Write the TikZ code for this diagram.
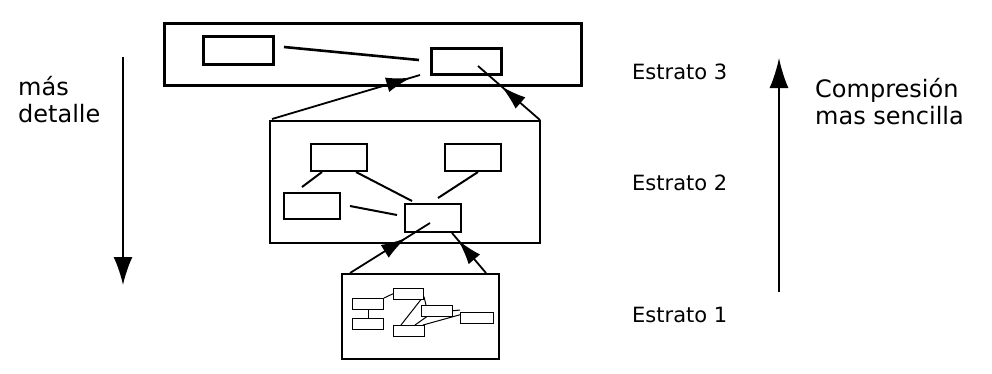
\documentclass[tikz,border=0pt]{standalone}
\usepackage{fontspec}
\setmainfont{DejaVu Sans}
\usetikzlibrary{arrows.meta,decorations.markings}
\begin{document}
\begin{tikzpicture}[x=1pt,y=-1pt,
  bigtip/.tip={Latex[length=25pt,width=15pt]},
  midarrow/.style={line width=1.8pt,decoration={markings,mark=at position #1 with {\arrow{bigtip}}},postaction={decorate}},
  frame/.style={draw,line width=#1},
  lbl/.style={anchor=base west,inner sep=0pt,font=\fontsize{21}{22}\selectfont},
  big/.style={anchor=base west,inner sep=0pt,align=left,font=\fontsize{24}{27}\selectfont},
  link/.style={line width=#1}
]
\useasboundingbox (0,0) rectangle (992,373);
% ---- Estrato 3 ----
\node[frame=3pt,minimum width=417pt,minimum height=62pt,anchor=north west,inner sep=0pt] (top) at (163,22) {};
\node[frame=2.6pt,minimum width=70pt,minimum height=28pt,anchor=north west,inner sep=0pt] (tA) at (202,35) {};
\node[frame=2.6pt,minimum width=70pt,minimum height=26pt,anchor=north west,inner sep=0pt] (tB) at (430,47) {};
\coordinate (tAe) at (284,47);
\coordinate (tBw) at (419,60);
\draw[link=2.6pt] (tAe) -- (tBw);
% ---- Estrato 2 ----
\node[frame=2.2pt,minimum width=270pt,minimum height=122pt,anchor=north west,inner sep=0pt] (mid) at (269,120) {};
\node[frame=2.2pt,minimum width=56pt,minimum height=27pt,anchor=north west,inner sep=0pt] (c1) at (310,143) {};
\node[frame=2.2pt,minimum width=56pt,minimum height=27pt,anchor=north west,inner sep=0pt] (c2) at (444,143) {};
\node[frame=2.2pt,minimum width=56pt,minimum height=26pt,anchor=north west,inner sep=0pt] (c3) at (283,192) {};
\node[frame=2.2pt,minimum width=56pt,minimum height=28pt,anchor=north west,inner sep=0pt] (c4) at (404,203) {};
\coordinate (l1a) at (322,172); \coordinate (l1b) at (302,187);
\coordinate (l2a) at (356,172); \coordinate (l2b) at (412,201);
\coordinate (l3a) at (478,172); \coordinate (l3b) at (438,198);
\coordinate (l4a) at (350,206); \coordinate (l4b) at (397,215);
\draw[link=2pt] (l1a) -- (l1b);
\draw[link=2pt] (l2a) -- (l2b);
\draw[link=2pt] (l3a) -- (l3b);
\draw[link=2pt] (l4a) -- (l4b);
% arrows Estrato 2 -> Estrato 3
\coordinate (m2l) at (272,119);
\coordinate (t3l) at (420,75);
\coordinate (m2r) at (540,120);
\coordinate (t3r) at (478,66);
\draw[midarrow=0.94] (m2l) -- (t3l);
\draw[midarrow=0.62] (m2r) -- (t3r);
% ---- Estrato 1 ----
\node[frame=1.8pt,minimum width=157pt,minimum height=85pt,anchor=north west,inner sep=0pt] (bot) at (341,273) {};
\tikzset{mini/.style={draw,line width=1pt,anchor=north west,inner sep=0pt,minimum width=#1,minimum height=10.5pt}}
\node[mini=31pt] (m1) at (352,298) {};
\node[mini=31pt] (m2) at (352,318) {};
\node[mini=30pt] (m3) at (393,288) {};
\node[mini=31pt] (m4) at (421,305) {};
\node[mini=33pt] (m5) at (460,312) {};
\node[mini=31pt] (m6) at (393,325) {};
\draw[line width=1pt] (m1.south) -- (m2.north);
\draw[line width=1pt] (m1.north east) -- (m3.west);
\draw[line width=1pt] ([xshift=-3pt]m3.south east) -- ([xshift=8pt]m6.north west);
\draw[line width=1pt] ([yshift=-3pt]m3.east) -- ([xshift=5pt]m4.north west);
\draw[line width=1pt] (m4.east) -- ([yshift=2pt]m5.north west);
\draw[line width=1pt] ([xshift=-2pt]m6.north east) -- ([yshift=3pt]m5.west);
\draw[line width=1pt] ([xshift=-10pt]m6.north east) -- ([xshift=6pt]m4.south west);
% arrows Estrato 1 -> Estrato 2
\coordinate (b1l) at (350,273);
\coordinate (c4l) at (430,223);
\coordinate (b1r) at (486,273);
\coordinate (c4r) at (452,233);
\draw[midarrow=0.7] (b1l) -- (c4l);
\draw[midarrow=0.82] (b1r) -- (c4r);
% ---- side arrows and labels ----
\coordinate (la1) at (123,57);
\coordinate (la2) at (123,285);
\draw[line width=1.8pt,-{Latex[length=28pt,width=19pt]}] (la1) -- (la2);
\coordinate (ra1) at (779,292);
\coordinate (ra2) at (779,58);
\draw[line width=1.8pt,-{Latex[length=30pt,width=19pt]}] (ra1) -- (ra2);
\node[big] (md) at (18,122) {más\\detalle};
\node[big] (cs) at (815,124) {Compresión\\mas sencilla};
\node[lbl] (e3) at (632,79) {Estrato 3};
\node[lbl] (e2) at (632,190) {Estrato 2};
\node[lbl] (e1) at (632,322) {Estrato 1};
\end{tikzpicture}
\end{document}
